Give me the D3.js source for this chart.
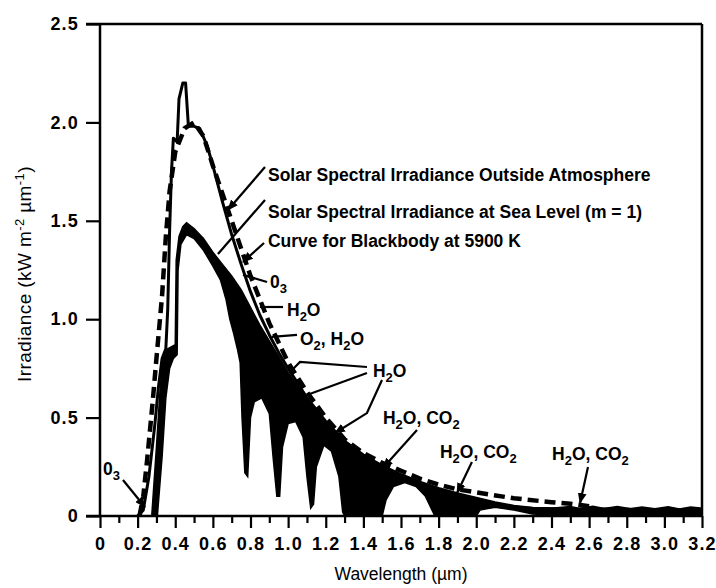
<!DOCTYPE html>
<html><head><meta charset="utf-8">
<script src="https://cdn.jsdelivr.net/npm/d3@7"></script>
<style>
body{margin:0;background:#fff}
text{font-family:"Liberation Sans",Arial,Helvetica,sans-serif;fill:#000}
</style>
</head><body>
<svg id="chart" width="716" height="588"></svg>
<script>
// ---------- data ----------
const xTickValues = [0,0.2,0.4,0.6,0.8,1.0,1.2,1.4,1.6,1.8,2.0,2.2,2.4,2.6,2.8,3.0,3.2];
const xTickLabels = ["0","0.2","0.4","0.6","0.8","1.0","1.2","1.4","1.6","1.8","2.0","2.2","2.4","2.6","2.8","3.0","3.2"];
const xMinorTicks = [0.1,0.3,0.5,0.7,0.9,1.1,1.3,1.5,1.7,1.9,2.1,2.3,2.5,2.7,2.9,3.1];
const yTickValues = [0,0.5,1.0,1.5,2.0,2.5];
const yTickLabels = ["0","0.5","1.0","1.5","2.0","2.5"];

// Solar spectral irradiance outside atmosphere [wavelength µm, kW m-2 µm-1]
const outsideAtmosphere = [[0.20,0],[0.23,0.03],[0.26,0.2],[0.29,0.45],[0.31,0.65],[0.33,0.8],[0.35,0.85],
  [0.36,1.05],[0.37,1.45],[0.38,1.75],[0.39,1.92],[0.41,1.9],[0.42,2.12],[0.44,2.2],[0.455,2.2],[0.47,1.98],
  [0.50,1.98],[0.53,1.97],[0.57,1.88],[0.60,1.78],[0.65,1.6],[0.70,1.43],[0.75,1.28],[0.80,1.14],[0.85,1.02],
  [0.90,0.92],[0.95,0.83],[1.0,0.75],[1.1,0.6],[1.2,0.48],[1.3,0.38],[1.4,0.31],[1.5,0.255],[1.6,0.21],
  [1.7,0.172],[1.8,0.14],[1.9,0.113],[2.0,0.09],[2.1,0.068],[2.2,0.05],[2.3,0.04],[2.5,0.035],[2.7,0.035],
  [2.9,0.033],[3.2,0.03]];

// Blackbody at 5900 K (dashed)
const blackbody = [[0.21,0],[0.23,0.1],[0.25,0.28],[0.28,0.58],[0.30,0.8],[0.33,1.12],[0.35,1.42],[0.37,1.65],
  [0.40,1.85],[0.45,1.97],[0.50,2.0],[0.55,1.93],[0.60,1.78],[0.65,1.64],[0.70,1.5],[0.75,1.36],[0.80,1.22],
  [0.85,1.1],[0.90,0.98],[0.95,0.88],[1.0,0.78],[1.1,0.63],[1.2,0.5],[1.3,0.39],[1.4,0.32],[1.5,0.27],
  [1.6,0.23],[1.7,0.19],[1.8,0.16],[1.9,0.135],[2.0,0.12],[2.2,0.09],[2.4,0.07],[2.5,0.062],[2.6,0.05]];

// Sea level (m = 1): upper edge of the shaded band
const seaLevelTop = [[0.275,0],[0.30,0.35],[0.32,0.65],[0.335,0.8],[0.36,0.85],[0.40,0.87],[0.405,1.3],
  [0.42,1.42],[0.44,1.47],[0.46,1.49],[0.50,1.46],[0.55,1.41],[0.60,1.34],[0.65,1.28],[0.70,1.22],[0.75,1.15],
  [0.80,1.06],[0.85,0.97],[0.90,0.89],[0.95,0.81],[1.00,0.73],[1.05,0.66],[1.10,0.6],[1.15,0.54],[1.20,0.48],
  [1.25,0.43],[1.30,0.38],[1.40,0.31],[1.50,0.255],[1.60,0.21],[1.70,0.172],[1.80,0.14],[1.90,0.113],
  [2.00,0.09],[2.10,0.068],[2.20,0.05],[2.30,0.042],[2.40,0.04],[2.50,0.048],[2.55,0.038],[2.62,0.05],
  [2.68,0.038],[2.75,0.048],[2.82,0.037],[2.88,0.046],[2.95,0.037],[3.02,0.047],[3.08,0.036],[3.14,0.046],[3.20,0.04]];
// Sea level (m = 1): lower edge (absorption bands)
const seaLevelBottom = [[0.305,0],[0.33,0.3],[0.35,0.6],[0.37,0.75],[0.39,0.8],[0.41,0.82],[0.415,1.25],
  [0.43,1.38],[0.46,1.43],[0.50,1.41],[0.55,1.35],[0.60,1.27],[0.64,1.2],[0.67,1.1],[0.69,1.0],[0.71,0.93],
  [0.73,0.85],[0.745,0.78],[0.755,0.5],[0.77,0.22],[0.785,0.2],[0.80,0.5],[0.82,0.58],[0.86,0.6],[0.90,0.52],
  [0.92,0.3],[0.94,0.1],[0.955,0.1],[0.97,0.35],[1.0,0.47],[1.04,0.48],[1.08,0.4],[1.10,0.2],[1.12,0.04],
  [1.135,0.06],[1.15,0.25],[1.19,0.36],[1.23,0.33],[1.27,0.2],[1.29,0.02],[1.30,0],[1.50,0],[1.52,0.08],
  [1.56,0.15],[1.62,0.17],[1.68,0.15],[1.73,0.1],[1.76,0.04],[1.78,0],[2.0,0],[2.02,0.03],[2.1,0.045],
  [2.2,0.03],[2.3,0.01],[2.4,0.005],[3.2,0.005]];

// annotations: text, text anchor [λ, E], leader polylines, arrowhead?
const annotations = [
  {t:"Solar Spectral Irradiance Outside Atmosphere", at:[0.893,1.702], lines:[[[0.877,1.773],[0.680,1.555]]], head:true},
  {t:"Solar Spectral Irradiance at Sea Level (m = 1)", at:[0.893,1.514], lines:[[[0.877,1.606],[0.627,1.331]]], head:false},
  {t:"Curve for Blackbody at 5900 K", at:[0.893,1.367], lines:[[[0.872,1.387],[0.760,1.291]]], head:true},
  {t:"0_3", at:[0.904,1.159], lines:[[[0.888,1.189],[0.760,1.225]]], head:false},
  {t:"H_2O", at:[0.994,1.016], lines:[[[0.973,1.062],[0.850,1.062]]], head:false},
  {t:"O_2, H_2O", at:[1.063,0.869], lines:[[[1.047,0.920],[0.914,0.910]]], head:false},
  {t:"H_2O", at:[1.451,0.706], lines:[[[1.419,0.757],[1.063,0.783],[1.021,0.742]],[[1.419,0.727],[1.100,0.615]]], head:false},
  {t:"", at:[0,0], lines:[[[1.499,0.691],[1.419,0.523],[1.249,0.422]]], head:true},
  {t:"H_2O, CO_2", at:[1.504,0.467], lines:[[[1.685,0.437],[1.504,0.244]]], head:true},
  {t:"H_2O, CO_2", at:[1.807,0.295], lines:[[[1.977,0.274],[1.898,0.117]]], head:true},
  {t:"H_2O, CO_2", at:[2.403,0.285], lines:[[[2.594,0.249],[2.552,0.066]]], head:true},
  {t:"0_3", at:[0.016,0.208], lines:[[[0.122,0.183],[0.239,0.046]]], head:true}
];

// ---------- drawing ----------
const svg = d3.select("#chart");
const x = d3.scaleLinear().domain([0,3.2]).range([100,702]);
const y = d3.scaleLinear().domain([0,2.5]).range([516,24]);

svg.append("defs").append("marker").attr("id","ah").attr("viewBox","0 0 10 8")
  .attr("refX",9).attr("refY",4).attr("markerWidth",11).attr("markerHeight",9)
  .attr("markerUnits","userSpaceOnUse").attr("orient","auto")
  .append("path").attr("d","M0,0 L10,4 L0,8 Z").attr("fill","#000");

const line = d3.line().x(d=>x(d[0])).y(d=>y(d[1]));

// shaded sea-level band
const band = seaLevelTop.concat(seaLevelBottom.slice().reverse());
svg.append("path").attr("d", line(band)+"Z").attr("fill","#000").attr("stroke","#000").attr("stroke-width",1.5);

// outside atmosphere
svg.append("path").attr("d", line(outsideAtmosphere)).attr("fill","none").attr("stroke","#000")
  .attr("stroke-width",3).attr("stroke-linejoin","round");

// blackbody
svg.append("path").attr("d", line(blackbody)).attr("fill","none").attr("stroke","#000")
  .attr("stroke-width",4.5).attr("stroke-dasharray","11,6");

// axes
const ax = svg.append("g").attr("transform",`translate(0,${y(0)})`)
  .call(d3.axisBottom(x).tickValues(xTickValues).tickFormat((d,i)=>xTickLabels[i]).tickSize(12).tickSizeOuter(0).tickPadding(9));
const axm = svg.append("g").attr("transform",`translate(0,${y(0)})`)
  .call(d3.axisBottom(x).tickValues(xMinorTicks).tickFormat("").tickSize(7).tickSizeOuter(0));
const ay = svg.append("g").attr("transform",`translate(${x(0)},0)`)
  .call(d3.axisLeft(y).tickValues(yTickValues).tickFormat((d,i)=>yTickLabels[i]).tickSize(14).tickSizeOuter(0).tickPadding(7));
[ax,axm,ay].forEach(g=>{
  g.select(".domain").remove();
  g.selectAll(".tick line").attr("stroke","#000").attr("stroke-width",2.2);
  g.selectAll("text").attr("font-size",18).attr("font-weight","bold").attr("fill","#000")
   .attr("letter-spacing",1.2)
   .style("font-family","'Liberation Sans',Arial,sans-serif");
});

// frame
const fr = svg.append("g").attr("stroke","#000").attr("stroke-width",2.5).attr("fill","none");
fr.append("line").attr("x1",x(0)-14).attr("x2",x(3.2)).attr("y1",y(2.5)).attr("y2",y(2.5));
fr.append("line").attr("x1",x(0)-14).attr("x2",x(3.2)).attr("y1",y(0)).attr("y2",y(0));
fr.append("line").attr("x1",x(0)).attr("x2",x(0)).attr("y1",y(2.5)).attr("y2",y(0));
fr.append("line").attr("x1",x(3.2)).attr("x2",x(3.2)).attr("y1",y(2.5)).attr("y2",y(0));

// axis titles
svg.append("text").attr("x",(x(0)+x(3.2))/2).attr("y",580).attr("text-anchor","middle")
  .attr("font-size",17.5).text("Wavelength (µm)");
const yt = svg.append("text").attr("transform",`translate(31,${274}) rotate(-90)`).attr("text-anchor","middle")
  .attr("font-size",19).attr("letter-spacing",0.4);
yt.append("tspan").text("Irradiance (kW m");
yt.append("tspan").attr("dy",-7).attr("font-size",13).text("-2");
yt.append("tspan").attr("dy",7).text(" µm");
yt.append("tspan").attr("dy",-7).attr("font-size",13).text("-1");
yt.append("tspan").attr("dy",7).text(")");

// annotations
function addLabel(t, px, py){
  const te = svg.append("text").attr("x",px).attr("y",py).attr("font-size",17.5).attr("font-weight","bold");
  const parts = t.split(/(_\d)/).filter(p=>p);
  let shifted = false;
  parts.forEach(p=>{
    if(p[0]==="_"){
      te.append("tspan").attr("dy",5).attr("font-size",13).text(p.slice(1));
      shifted = true;
    } else {
      const ts = te.append("tspan").text(p);
      if(shifted){ ts.attr("dy",-5); shifted=false; }
    }
  });
}
annotations.forEach(a=>{
  a.lines.forEach(pl=>{
    const p = svg.append("path").attr("d", line(pl)).attr("fill","none").attr("stroke","#000")
      .attr("stroke-width",2.2);
    if(a.head) p.attr("marker-end","url(#ah)");
  });
  if(a.t) addLabel(a.t, x(a.at[0]), y(a.at[1]));
});
</script>
</body></html>
